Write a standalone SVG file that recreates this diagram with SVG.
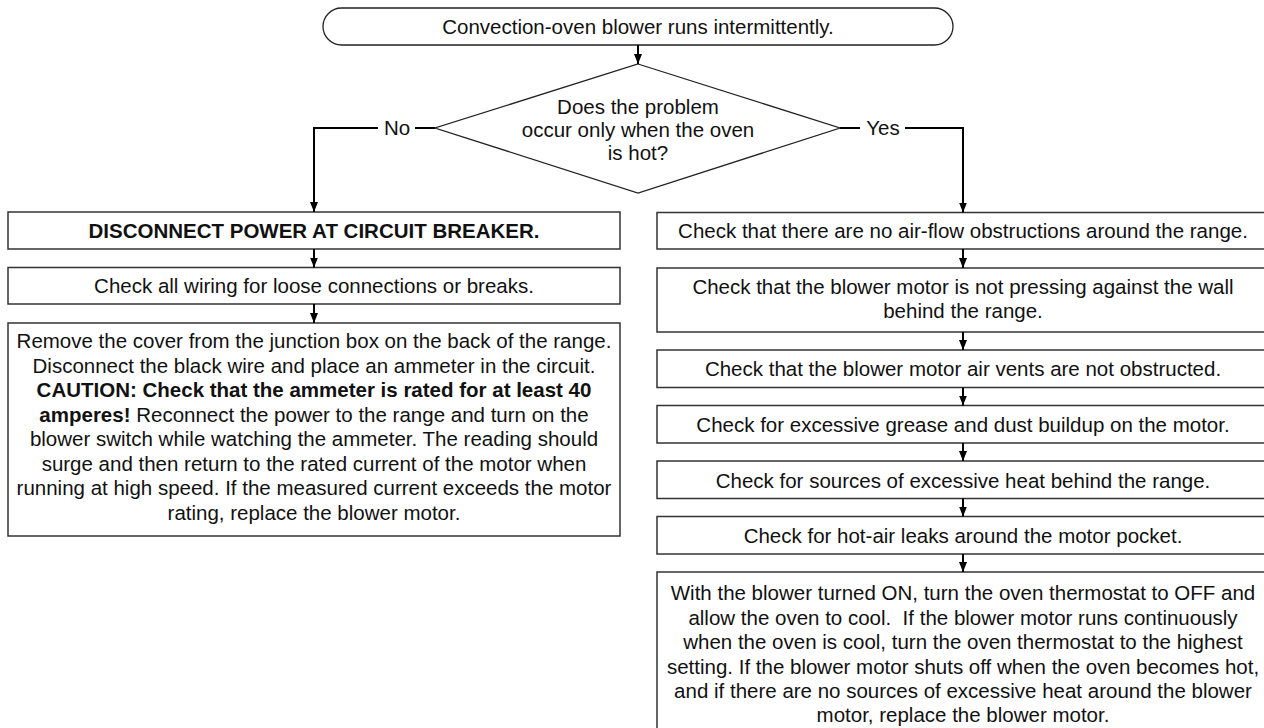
<svg xmlns="http://www.w3.org/2000/svg" width="1264" height="728" viewBox="0 0 1264 728">
<style>
text{font-family:"Liberation Sans",Arial,sans-serif;font-size:20.5px;fill:#111;text-anchor:middle}
.b{font-weight:bold}
.box{fill:#fff;stroke:#333;stroke-width:1.5}
.shape{fill:#fff;stroke:#222;stroke-width:1.3}
.conn{fill:none;stroke:#000;stroke-width:2}
</style>
<defs>
<marker id="ah" viewBox="0 0 10 8" refX="10" refY="4" markerWidth="10" markerHeight="8" markerUnits="userSpaceOnUse" orient="auto">
<path d="M0,0 L10,4 L0,8 z" fill="#000"/>
</marker>
</defs>
<rect width="1264" height="728" fill="#fff"/>

<g id="start">
<rect class="shape" x="323" y="8" width="630" height="37" rx="18.5" ry="18.5"/>
<text x="638" y="34">Convection-oven blower runs intermittently.</text>
</g>

<g id="decision">
<polygon class="shape" points="638,64 840,128 638,193 435,128"/>
<text x="638" y="114">Does the problem</text>
<text x="638" y="137">occur only when the oven</text>
<text x="638" y="160">is hot?</text>
</g>

<g id="l1">
<rect class="box" x="8" y="212" width="612" height="37"/>
<text class="b" x="314" y="238">DISCONNECT POWER AT CIRCUIT BREAKER.</text>
</g>
<g id="l2">
<rect class="box" x="8" y="267.5" width="612" height="36.5"/>
<text x="314" y="293">Check all wiring for loose connections or breaks.</text>
</g>
<g id="l3">
<rect class="box" x="8" y="323" width="612" height="213"/>
<text x="314" y="348">Remove the cover from the junction box on the back of the range.</text>
<text x="314" y="372.6">Disconnect the black wire and place an ammeter in the circuit.</text>
<text class="b" x="314" y="397.1">CAUTION: Check that the ammeter is rated for at least 40</text>
<text x="314" y="421.7"><tspan class="b">amperes!</tspan> Reconnect the power to the range and turn on the</text>
<text x="314" y="446.3">blower switch while watching the ammeter. The reading should</text>
<text x="314" y="470.9">surge and then return to the rated current of the motor when</text>
<text x="314" y="495.4">running at high speed. If the measured current exceeds the motor</text>
<text x="314" y="520">rating, replace the blower motor.</text>
</g>

<g id="r1">
<rect class="box" x="657" y="212.5" width="612" height="36.5"/>
<text x="963" y="238">Check that there are no air-flow obstructions around the range.</text>
</g>
<g id="r2">
<rect class="box" x="657" y="268" width="612" height="64"/>
<text x="963" y="294">Check that the blower motor is not pressing against the wall</text>
<text x="963" y="318">behind the range.</text>
</g>
<g id="r3">
<rect class="box" x="657" y="350" width="612" height="37.5"/>
<text x="963" y="376">Check that the blower motor air vents are not obstructed.</text>
</g>
<g id="r4">
<rect class="box" x="657" y="405.5" width="612" height="37.5"/>
<text x="963" y="432">Check for excessive grease and dust buildup on the motor.</text>
</g>
<g id="r5">
<rect class="box" x="657" y="461" width="612" height="37.5"/>
<text x="963" y="487.5">Check for sources of excessive heat behind the range.</text>
</g>
<g id="r6">
<rect class="box" x="657" y="516.5" width="612" height="37.5"/>
<text x="963" y="543">Check for hot-air leaks around the motor pocket.</text>
</g>
<g id="r7">
<rect class="box" x="657" y="572" width="612" height="170"/>
<text x="963" y="600">With the blower turned ON, turn the oven thermostat to OFF and</text>
<text x="963" y="624.5" xml:space="preserve" style="white-space:pre">allow the oven to cool.  If the blower motor runs continuously</text>
<text x="963" y="649">when the oven is cool, turn the oven thermostat to the highest</text>
<text x="963" y="673.5">setting. If the blower motor shuts off when the oven becomes hot,</text>
<text x="963" y="698">and if there are no sources of excessive heat around the blower</text>
<text x="963" y="722">motor, replace the blower motor.</text>
</g>

<g id="connectors">
<path class="conn" d="M638,45 V64" marker-end="url(#ah)"/>
<path class="conn" d="M435,128 H415"/>
<path class="conn" d="M378,128 H314 V212" marker-end="url(#ah)"/>
<text x="397" y="135">No</text>
<path class="conn" d="M840,128 H860"/>
<path class="conn" d="M905,128 H963 V212.5" marker-end="url(#ah)"/>
<text x="883" y="135">Yes</text>
<path class="conn" d="M314,249 V267.5" marker-end="url(#ah)"/>
<path class="conn" d="M314,304 V323" marker-end="url(#ah)"/>
<path class="conn" d="M963,249 V268" marker-end="url(#ah)"/>
<path class="conn" d="M963,332 V350" marker-end="url(#ah)"/>
<path class="conn" d="M963,387.5 V405.5" marker-end="url(#ah)"/>
<path class="conn" d="M963,443 V461" marker-end="url(#ah)"/>
<path class="conn" d="M963,498.5 V516.5" marker-end="url(#ah)"/>
<path class="conn" d="M963,554 V572" marker-end="url(#ah)"/>
</g>
</svg>
